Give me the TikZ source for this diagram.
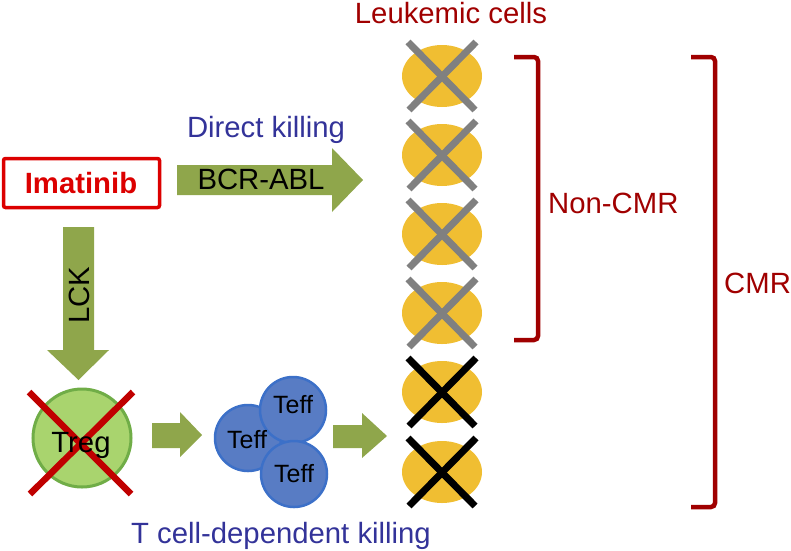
\documentclass[tikz,border=0pt]{standalone}
\usepackage{fontspec}
\setmainfont{Liberation Sans}
\usetikzlibrary{shapes.geometric}
\definecolor{darkred}{RGB}{160,0,0}
\definecolor{imared}{RGB}{220,0,0}
\definecolor{txtblue}{RGB}{51,51,153}
\definecolor{arrgreen}{RGB}{143,166,75}
\definecolor{cellyellow}{RGB}{240,190,50}
\definecolor{xgray}{RGB}{128,128,128}
\definecolor{tregfill}{RGB}{169,212,110}
\definecolor{tregline}{RGB}{112,173,71}
\definecolor{xred}{RGB}{192,0,0}
\definecolor{tefffill}{RGB}{88,124,196}
\definecolor{teffline}{RGB}{60,112,200}
\begin{document}
\begin{tikzpicture}[x=1pt,y=-1pt,
  lbl/.style={inner sep=0pt, font=\fontsize{29.3}{34}\selectfont},
  smalllbl/.style={inner sep=0pt, font=\fontsize{25}{30}\selectfont},
  cell/.style={ellipse, fill=cellyellow, minimum width=80, minimum height=62, inner sep=0pt},
  grayx/.style={draw=xgray, line width=7},
  blackx/.style={draw=black, line width=7},
  bracketline/.style={draw=darkred, line width=4.5, rounded corners=4},
  blockarrow/.style={fill=arrgreen},
  teff/.style={circle, fill=tefffill, draw=teffline, line width=2.5, minimum size=66, inner sep=0pt},
]
\useasboundingbox (0,0) rectangle (791,550);

% Leukemic cells
\node[lbl, text=darkred, anchor=base] (leuk) at (451,23) {Leukemic cells};
\foreach \i/\y in {1/76,2/155,3/234,4/313,5/392,6/472}{
  \node[cell] (c\i) at (442,\y) {};
}
\foreach \i in {1,2,3,4}{
  \draw[grayx] ([shift={(-34,-34)}]c\i.center) -- ([shift={(33,34)}]c\i.center);
  \draw[grayx] ([shift={(34,-34)}]c\i.center) -- ([shift={(-33,34)}]c\i.center);
}
\foreach \i in {5,6}{
  \draw[blackx] ([shift={(-34,-34)}]c\i.center) -- ([shift={(33,34)}]c\i.center);
  \draw[blackx] ([shift={(34,-34)}]c\i.center) -- ([shift={(-33,34)}]c\i.center);
}

% Brackets
\coordinate (nt) at (514,57);
\coordinate (nb) at (514,340);
\coordinate (ct) at (691,57);
\coordinate (cb) at (691,507);
\draw[bracketline] (nt) -- (538,57) -- (538,340) -- (nb);
\draw[bracketline] (ct) -- (715,57) -- (715,507) -- (cb);
\node[lbl, text=darkred, anchor=base west] (noncmr) at (548,213) {Non-CMR};
\node[lbl, text=darkred, anchor=base west] (cmr) at (724,293) {CMR};

% Imatinib
\node[draw=imared, line width=3.5, rounded corners=2, minimum width=156, minimum height=49, inner sep=0pt] (ima) at (81.5,183) {};
\node[lbl, text=imared, anchor=base, font=\fontsize{29.3}{34}\selectfont\bfseries] (imatxt) at (81,193) {Imatinib};

% BCR-ABL arrow
\fill[blockarrow] (177,165) -- (332,165) -- (332,148) -- (363,180) -- (332,212) -- (332,195) -- (177,195) -- cycle;
\node[lbl, anchor=base] (bcr) at (261,189) {BCR-ABL};
\node[lbl, text=txtblue, anchor=base] (direct) at (266,137) {Direct killing};

% LCK arrow
\fill[blockarrow] (63,227) -- (94,227) -- (94,350) -- (109,350) -- (78.5,380) -- (47,350) -- (63,350) -- cycle;
\node[lbl, anchor=base, rotate=90] (lck) at (89,295) {LCK};

% Treg
\node[circle, fill=tregfill, draw=tregline, line width=3, minimum size=98, inner sep=0pt] (treg) at (82,438) {};
\draw[draw=xred, line width=6.5] ([shift={(-53,-46)}]treg.center) -- ([shift={(49,56)}]treg.center);
\draw[draw=xred, line width=6.5] ([shift={(51,-46)}]treg.center) -- ([shift={(-52,56)}]treg.center);
\node[lbl, anchor=base] (tregtxt) at (81,452) {Treg};

% arrow Treg -> Teff
\fill[blockarrow] (152,423) -- (180,423) -- (180,412) -- (202,435) -- (180,457) -- (180,448) -- (152,448) -- cycle;

% Teff cluster
\node[teff] (t2) at (248,438) {};
\node[teff] (t1) at (293,410) {};
\node[teff] (t3) at (294,474) {};
\node[smalllbl, anchor=base] (t1txt) at (293,413) {Teff};
\node[smalllbl, anchor=base] (t2txt) at (247,448) {Teff};
\node[smalllbl, anchor=base] (t3txt) at (294,482) {Teff};

% arrow Teff -> cells
\fill[blockarrow] (333,425) -- (362,425) -- (362,413) -- (387,436) -- (362,458) -- (362,448) -- (333,448) -- cycle;

\node[lbl, text=txtblue, anchor=base] (tdep) at (281,543) {T cell-dependent killing};
\end{tikzpicture}
\end{document}
